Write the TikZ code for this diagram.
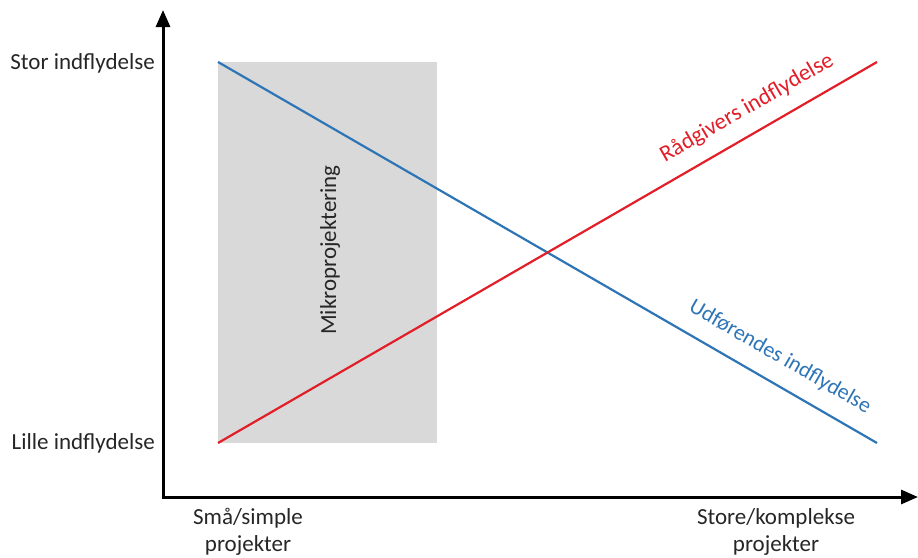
\documentclass[tikz,border=0pt]{standalone}
\usepackage{fontspec}
\setmainfont{Carlito}
\usetikzlibrary{arrows.meta}
\definecolor{boxgray}{RGB}{217,217,217}
\definecolor{lineblue}{RGB}{46,117,182}
\definecolor{linered}{RGB}{226,30,40}
\definecolor{txtgray}{RGB}{38,38,38}
\tikzset{
  axis/.style={line width=3pt, -{Triangle[width=14pt,length=17pt]}},
  lbl/.style={font=\fontsize{23}{27}\selectfont, text=txtgray, inner sep=0pt, align=center},
  infl/.style={line width=2.2pt}
}
\begin{document}
\begin{tikzpicture}[x=1pt,y=-1pt]
\useasboundingbox (0,0) rectangle (918,557);
% gray box
\fill[boxgray] (218,62) rectangle (437,443);
\node[lbl, rotate=90] (mikro) at (330,250) {Mikroprojektering};
% axes
\coordinate (O) at (163,497);
\coordinate (ytip) at (163,10);
\coordinate (xtip) at (918,497);
\draw[axis] (O) -- (ytip);
\draw[axis] ([xshift=-1.5pt]O) -- (xtip);
% lines
\coordinate (bs) at (218,62);
\coordinate (be) at (877,443);
\coordinate (rs) at (218,443);
\coordinate (re) at (877,62);
\draw[infl, lineblue] (bs) -- (be);
\draw[infl, linered] (rs) -- (re);
\node[lbl, text=linered, rotate=30] (radg) at (747,108) {Rådgivers indflydelse};
\node[lbl, text=lineblue, rotate=-30, font=\fontsize{22}{27}\selectfont] (udf) at (780,357) {Udførendes indflydelse};
% axis labels
\node[lbl, anchor=east] (stor) at (155,63) {Stor indflydelse};
\node[lbl, anchor=east] (lille) at (155,443) {Lille indflydelse};
\node[lbl] (smaa) at (248,532) {Små/simple\\projekter};
\node[lbl] (store) at (776,532) {Store/komplekse\\projekter};
\end{tikzpicture}
\end{document}
